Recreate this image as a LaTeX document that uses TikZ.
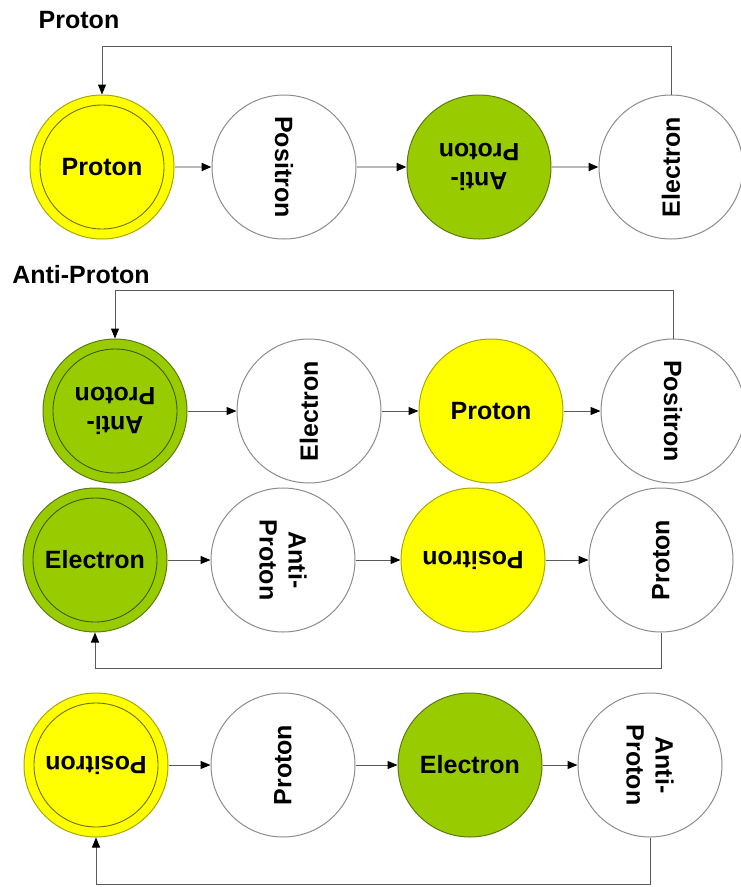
\documentclass[tikz,border=0pt]{standalone}
\usepackage{fontspec}
\setmainfont{Liberation Sans}
\usetikzlibrary{arrows.meta}
\definecolor{ylw}{HTML}{FFFF00}
\definecolor{ylwline}{HTML}{A8A800}
\definecolor{ylwring}{HTML}{6E6E00}
\definecolor{grnfill}{HTML}{99CC00}
\definecolor{grnline}{HTML}{5C7A10}
\definecolor{grnring}{HTML}{3F5A00}
\definecolor{wline}{HTML}{8C8C8C}
\definecolor{connc}{HTML}{5A5A5A}
\begin{document}
\begin{tikzpicture}[x=1pt,y=-1pt,
  particle/.style={circle,minimum size=144pt,inner sep=0pt,line width=1pt,align=center,
    font=\bfseries\fontsize{25}{29}\selectfont},
  plainball/.style={particle,draw=wline,fill=white},
  yellowball/.style={particle,draw=ylwline,fill=ylw},
  greenball/.style={particle,draw=grnline,fill=grnfill},
  ring/.style={path picture={\draw[line width=0.9pt,draw=#1]
    (path picture bounding box.center) circle[radius=62pt];}},
  title/.style={inner sep=0pt,font=\bfseries\fontsize{25}{29}\selectfont},
  link/.style={draw=connc,line width=1pt,-{Triangle[length=10pt,width=8pt,color=black]}},
  lightlink/.style={draw=gray!55,line width=2pt,-{Triangle[length=10pt,width=8pt,color=black]}}
]
\useasboundingbox (0,0) rectangle (741,887);

% titles
\node[title] (t1) at (79,20) {Proton};
\node[title] (t2) at (81,275) {Anti-Proton};

% row 1
\node[yellowball,ring=ylwring] (r1a) at (102,167) {Proton};
\node[plainball,rotate=-90] (r1b) at (284,167) {Positron};
\node[greenball,rotate=180] (r1c) at (479,167) {Anti-\\Proton};
\node[plainball,rotate=90] (r1d) at (671,167) {Electron};

% row 2
\node[greenball,ring=grnring,rotate=180] (r2a) at (115,411) {Anti-\\Proton};
\node[plainball,rotate=90] (r2b) at (309,411) {Electron};
\node[yellowball] (r2c) at (491,411) {Proton};
\node[plainball,rotate=-90] (r2d) at (673,411) {Positron};

% row 3
\node[greenball,ring=grnring] (r3a) at (95,560) {Electron};
\node[plainball,rotate=-90] (r3b) at (283,560) {Anti-\\Proton};
\node[yellowball,rotate=180] (r3c) at (473,560) {Positron};
\node[plainball,rotate=90] (r3d) at (661,560) {Proton};

% row 4
\node[yellowball,ring=ylwring,rotate=180] (r4a) at (96,765) {Positron};
\node[plainball,rotate=90] (r4b) at (283,765) {Proton};
\node[greenball] (r4c) at (470,765) {Electron};
\node[plainball,rotate=-90] (r4d) at (650,765) {Anti-\\Proton};

% row connectors
\draw[lightlink] (r1a) -- (r1b);
\draw[lightlink] (r1b) -- (r1c);
\draw[lightlink] (r1c) -- (r1d);
\draw[link] (r2a) -- (r2b);
\draw[link] (r2b) -- (r2c);
\draw[link] (r2c) -- (r2d);
\draw[link] (r3a) -- (r3b);
\draw[link] (r3b) -- (r3c);
\draw[link] (r3c) -- (r3d);
\draw[link] (r4a) -- (r4b);
\draw[link] (r4b) -- (r4c);
\draw[link] (r4c) -- (r4d);

% feedback loops
\draw[link] (r1d.center |- r1a.north) -- (r1d.center |- 0,46) -| (r1a.north);
\draw[link] (r2d.center |- r2c.north) -- (r2d.center |- 0,290) -| (r2a.center |- r2c.north);
\draw[link] (r3d.center |- r3a.south) -- (r3d.center |- 0,668) -| (r3a.south);
\draw[link] (r4d.center |- r4c.south) -- (r4d.center |- 0,884) -| (r4a.center |- r4c.south);
\end{tikzpicture}
\end{document}
